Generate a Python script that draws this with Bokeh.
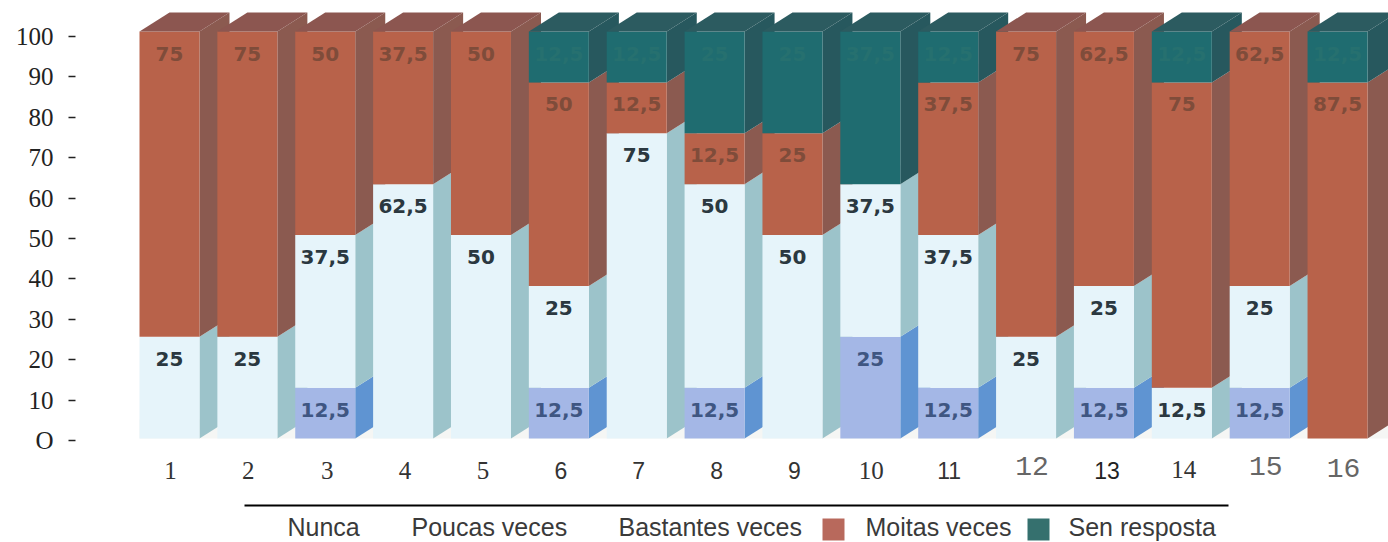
from bokeh.plotting import figure
from bokeh.models import ColumnDataSource, Range1d, LinearAxis, FixedTicker
from bokeh.embed import file_html
from bokeh.resources import INLINE

# ---- data ----
questions = list(range(1, 17))
poucas    = [0, 0, 12.5, 0, 0, 12.5, 0, 12.5, 0, 25, 12.5, 0, 12.5, 0, 12.5, 0]
bastantes = [25, 25, 37.5, 62.5, 50, 25, 75, 50, 50, 37.5, 37.5, 25, 25, 12.5, 25, 0]
moitas    = [75, 75, 50, 37.5, 50, 50, 12.5, 12.5, 25, 0, 37.5, 75, 62.5, 75, 62.5, 87.5]
sen       = [0, 0, 0, 0, 0, 12.5, 12.5, 25, 25, 37.5, 12.5, 0, 0, 12.5, 0, 12.5]
y_ticks   = [0, 10, 20, 30, 40, 50, 60, 70, 80, 90, 100]
legend_labels = ["Nunca", "Poucas veces", "Bastantes veces", "Moitas veces", "Sen resposta"]

SERIF, SANS, MONO = "Liberation Serif", "Liberation Sans", "Liberation Mono"
x_fonts = [SERIF]*5 + [SANS]*4 + [SERIF, SANS, MONO, SANS, SERIF, MONO, MONO]
x_sizes = ["25px"]*5 + ["23px"]*4 + ["25px", "23px", "28px", "23px", "25px", "28px", "28px"]
x_color = ["#333333"]*11 + ["#666666", "#222222", "#333333", "#666666", "#666666"]
x_shift = [1, 1, 2, 2, 2, 2, 2, 2, 2, 1, 1, 6, 3, 2, 6, 6]
x_lift  = [0]*11 + [-5, 0, -1, -5, -3]

# ---- geometry (reference pixels) ----
W, H = 1388, 542
FRAME_X0 = 75
BAR_X0, PITCH, BAR_W, DX, DY = 139, 77.87, 60, 30, 19
Y0, PX_PER = 438, 4.07
AX0, AX_PER = 440, 4.04
xs = lambda px: 1 + (px - BAR_X0 - BAR_W / 2) / PITCH
ys = lambda py: (Y0 - py) / PX_PER

styles = [
    (poucas,    "#a4b7e6", "#5f94d2", "#5f94d2", "#3f5682"),
    (bastantes, "#e6f4fa", "#9cc3ca", "#9cc3ca", "#2b3840"),
    (moitas,    "#b8624a", "#8b5a50", "#8c5650", "#7f4c3a"),
    (sen,       "#1f6c70", "#27585e", "#2c5b60", "#26706f"),
]

p = figure(width=W, height=H, output_backend="svg", toolbar_location=None,
           x_range=Range1d(xs(FRAME_X0), xs(W)), y_range=Range1d(ys(H), ys(0)),
           min_border_left=FRAME_X0, min_border_right=0, min_border_top=0, min_border_bottom=0,
           outline_line_color=None, background_fill_color="white", border_fill_color="white")
p.grid.visible = False
p.xaxis.visible = False
p.yaxis.visible = False

# left axis on its own scale: the tick labels sit slightly off the bars in the reference
p.extra_y_ranges = {"ticks": Range1d((AX0 - H) / AX_PER, AX0 / AX_PER)}
ax = LinearAxis(y_range_name="ticks", ticker=FixedTicker(ticks=y_ticks),
                major_label_overrides={0: "O"})
ax.axis_line_color = None
ax.minor_tick_line_color = None
ax.major_tick_in = 0
ax.major_tick_out = 7
ax.major_tick_line_color = "#222222"
ax.major_tick_line_width = 1.5
ax.major_label_text_font = "Liberation Serif"
ax.major_label_text_font_size = "25px"
ax.major_label_text_color = "#222222"
ax.major_label_standoff = 15
p.add_layout(ax, "left")

hw = BAR_W / PITCH / 2
ddx, ddy = DX / PITCH, DY / PX_PER

# floor band behind the bars
p.quad(left=[xs(139)], right=[xs(W)], bottom=[0], top=[ddy], fill_color="#f5f6f4", line_color=None)

lab_x, lab_y, lab_t, lab_c = [], [], [], []
for i, q in enumerate(questions):
    base = 0.0
    for vals, front, side, top, txt in styles:
        v = vals[i]
        if v == 0:
            continue
        l, r, t = q - hw, q + hw, base + v
        p.patch([r, r + ddx, r + ddx, r], [base, base + ddy, t + ddy, t], fill_color=side, line_color=None)
        p.quad(left=[l], right=[r], bottom=[base], top=[t], fill_color=front, line_color=None)
        lab_x.append(q); lab_y.append(t)
        lab_t.append(f"{v:g}".replace(".", ","))
        lab_c.append(txt)
        base = t
    top_color = [s for s in styles if s[0][i] > 0][-1][3]
    p.patch([q - hw, q + hw, q + hw + ddx, q - hw + ddx], [base, base, base + ddy, base + ddy],
            fill_color=top_color, line_color=None)

p.text(x="x", y="y", text="t", text_color="c", source=ColumnDataSource(dict(x=lab_x, y=lab_y, t=lab_t, c=lab_c)),
       text_font={"value": "DejaVu Sans"}, text_font_size={"value": "20px"}, text_font_style={"value": "bold"},
       text_align="center", text_baseline="middle", y_offset=22)

# question numbers below the bars
p.text(x="x", y="y", text="t", text_font="f", text_font_size="s", text_color="c", x_offset="o", y_offset="l",
       source=ColumnDataSource(dict(x=questions, y=[ys(470)] * 16, t=[str(q) for q in questions],
                                    f=x_fonts, s=x_sizes, c=x_color, o=x_shift, l=x_lift)),
       text_align="center", text_baseline="middle")

# legend, hand placed as in the reference
p.segment(x0=[xs(244)], x1=[xs(1228)], y0=[ys(505)], y1=[ys(505)], line_color="black", line_width=2)
leg_x = [287, 411, 618, 865, 1068]
p.text(x=[xs(v) for v in leg_x], y=[ys(526)] * 5, text=legend_labels,
       text_font={"value": "Liberation Sans"}, text_font_size={"value": "25px"}, text_color="#3a3a3a",
       text_align="left", text_baseline="middle")
p.quad(left=[xs(822), xs(1027)], right=[xs(844), xs(1049)], bottom=[ys(540)] * 2, top=[ys(518)] * 2,
       fill_color=["#b8695c", "#35706e"], line_color=None)

open("out.html", "w").write(file_html(p, INLINE))
